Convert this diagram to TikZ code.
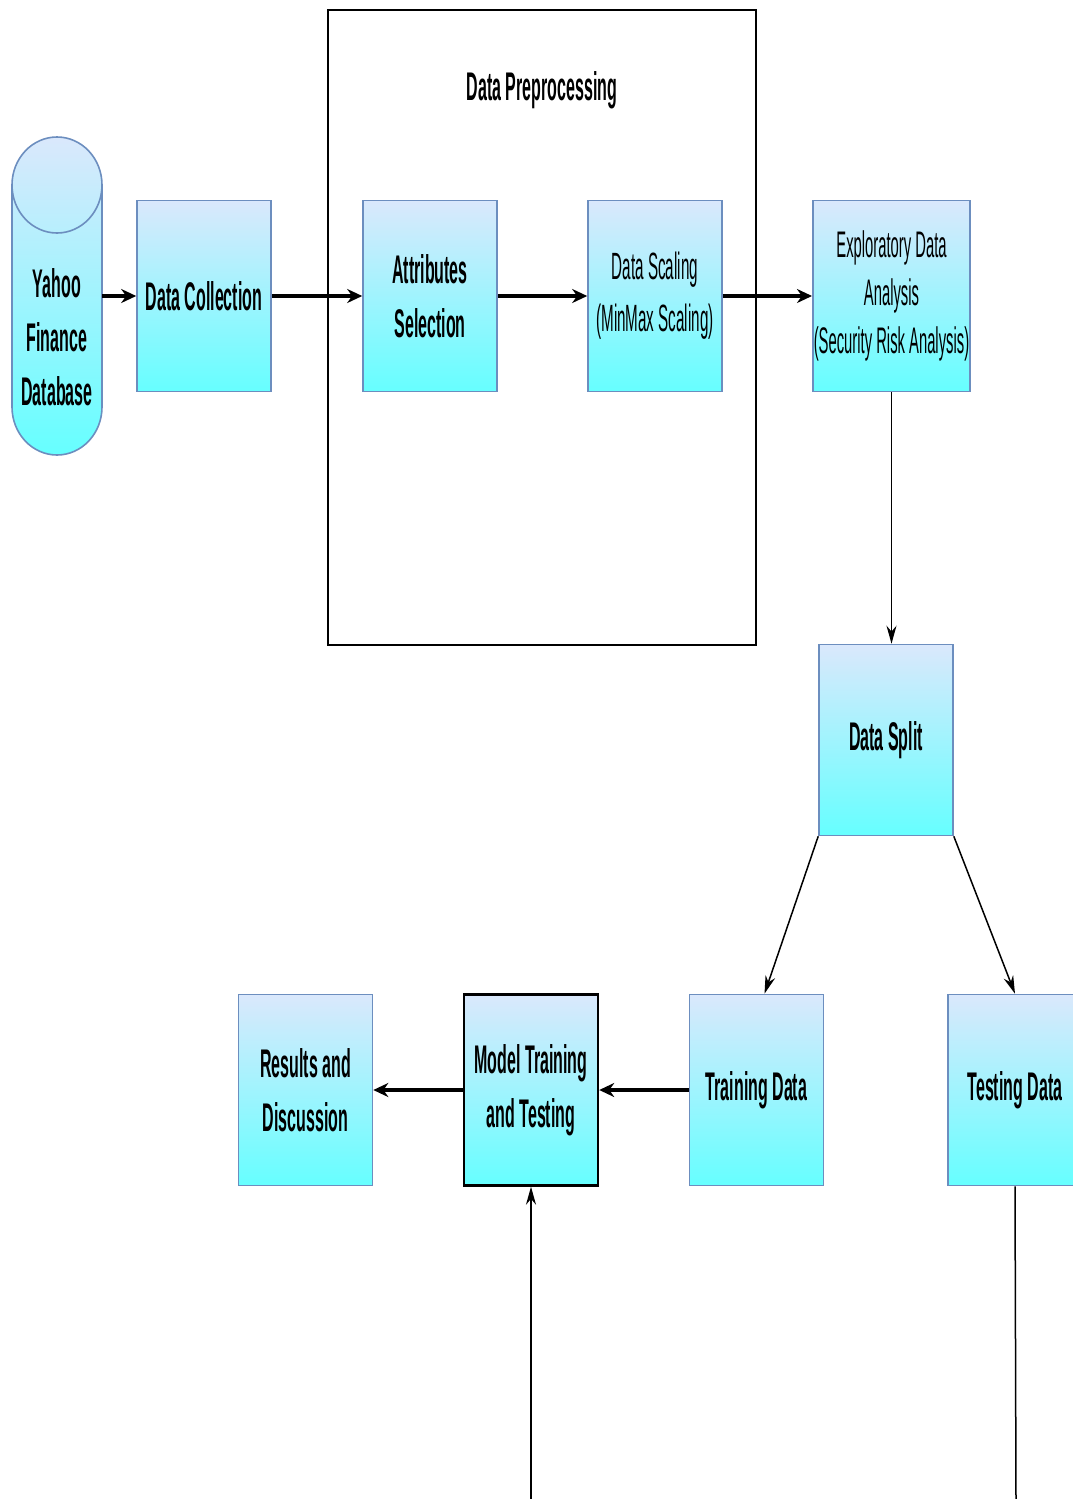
\documentclass[tikz,border=0pt]{standalone}
\usepackage{fontspec}
\setmainfont{Liberation Sans}[FakeStretch=0.4]
\usetikzlibrary{positioning,arrows.meta,calc}

\definecolor{boxtop}{HTML}{DAE8FC}
\definecolor{boxbot}{HTML}{66FFFF}
\definecolor{boxline}{HTML}{6C8EBF}

\tikzset{
  stagebox/.style={draw=boxline,line width=1.6pt,top color=boxtop,bottom color=boxbot,
    minimum width=134pt,minimum height=191pt,align=center,inner sep=1pt,
    font=\bfseries\fontsize{40}{54}\selectfont},
  plainlabel/.style={font=\fontsize{38}{52}\selectfont},
  flow/.style={line width=3.2pt,-{Stealth[length=15pt,width=14pt]}},
  thinflow/.style={line width=1.5pt,-{Stealth[length=18pt,width=10pt]}}
}

\begin{document}
\begin{tikzpicture}[x=1pt,y=-1pt]
  \useasboundingbox (0,0) rectangle (1073,1499);
  % preprocessing frame
  \draw[line width=2pt] (328,10) rectangle (756,645);
  \node[font=\bfseries\fontsize{40}{54}\selectfont] (prelabel) at (542,90) {Data Preprocessing};
  % database
  \draw[boxline,line width=1.6pt,top color=boxtop,bottom color=boxbot]
    (12,185) -- (12,407) arc (180:0:45 and 48) -- (102,185) arc (0:-180:45 and 48) -- cycle;
  \draw[boxline,line width=1.6pt] (12,185) arc (180:0:45 and 48);
  \node[minimum width=90pt,minimum height=318pt,inner sep=0pt] (db) at (57,296) {};
  \node[align=center,font=\bfseries\fontsize{40}{54}\selectfont] (dbtext) at (57,337) {Yahoo\\Finance\\Database};
  % top row
  \node[stagebox] (collect) at (204,296) {Data Collection};
  \node[stagebox] (attr) at (430,296) {Attributes\\Selection};
  \node[stagebox,plainlabel] (scale) at (655,296) {Data Scaling\\(MinMax Scaling)};
  \node[stagebox,minimum width=157pt,font=\fontsize{37}{48}\selectfont] (eda) at (891.5,296)
    {Exploratory Data\\Analysis\\(Security Risk Analysis)};
  % lower part
  \node[stagebox] (split) at (886,740) {Data Split};
  \node[stagebox] (train) at (756.5,1090) {Training Data};
  \node[stagebox] (test) at (1015,1090) {Testing Data};
  \node[stagebox,draw=black,line width=2.4pt] (model) at (531,1090) {Model Training\\and Testing};
  \node[stagebox] (results) at (305.5,1090) {Results and\\Discussion};
  \coordinate (modelin) at (531,1499);
  \coordinate (testout) at (1016,1499);
  % connectors
  \draw[flow] (db.east) -- (collect.west);
  \draw[flow] (collect.east) -- (attr.west);
  \draw[flow] (attr.east) -- (scale.west);
  \draw[flow] (scale.east) -- (eda.west);
  \draw[thinflow] (eda.south) -- (eda.south |- split.north);
  \draw[thinflow] (split.south west) -- ([xshift=8pt]train.north);
  \draw[thinflow] (split.south east) -- (test.north);
  \draw[flow] (train.west) -- (model.east);
  \draw[flow] (model.west) -- (results.east);
  \draw[thinflow] (modelin) -- (model.south);
  \draw[line width=1.5pt] (test.south) -- (testout);
\end{tikzpicture}
\end{document}
